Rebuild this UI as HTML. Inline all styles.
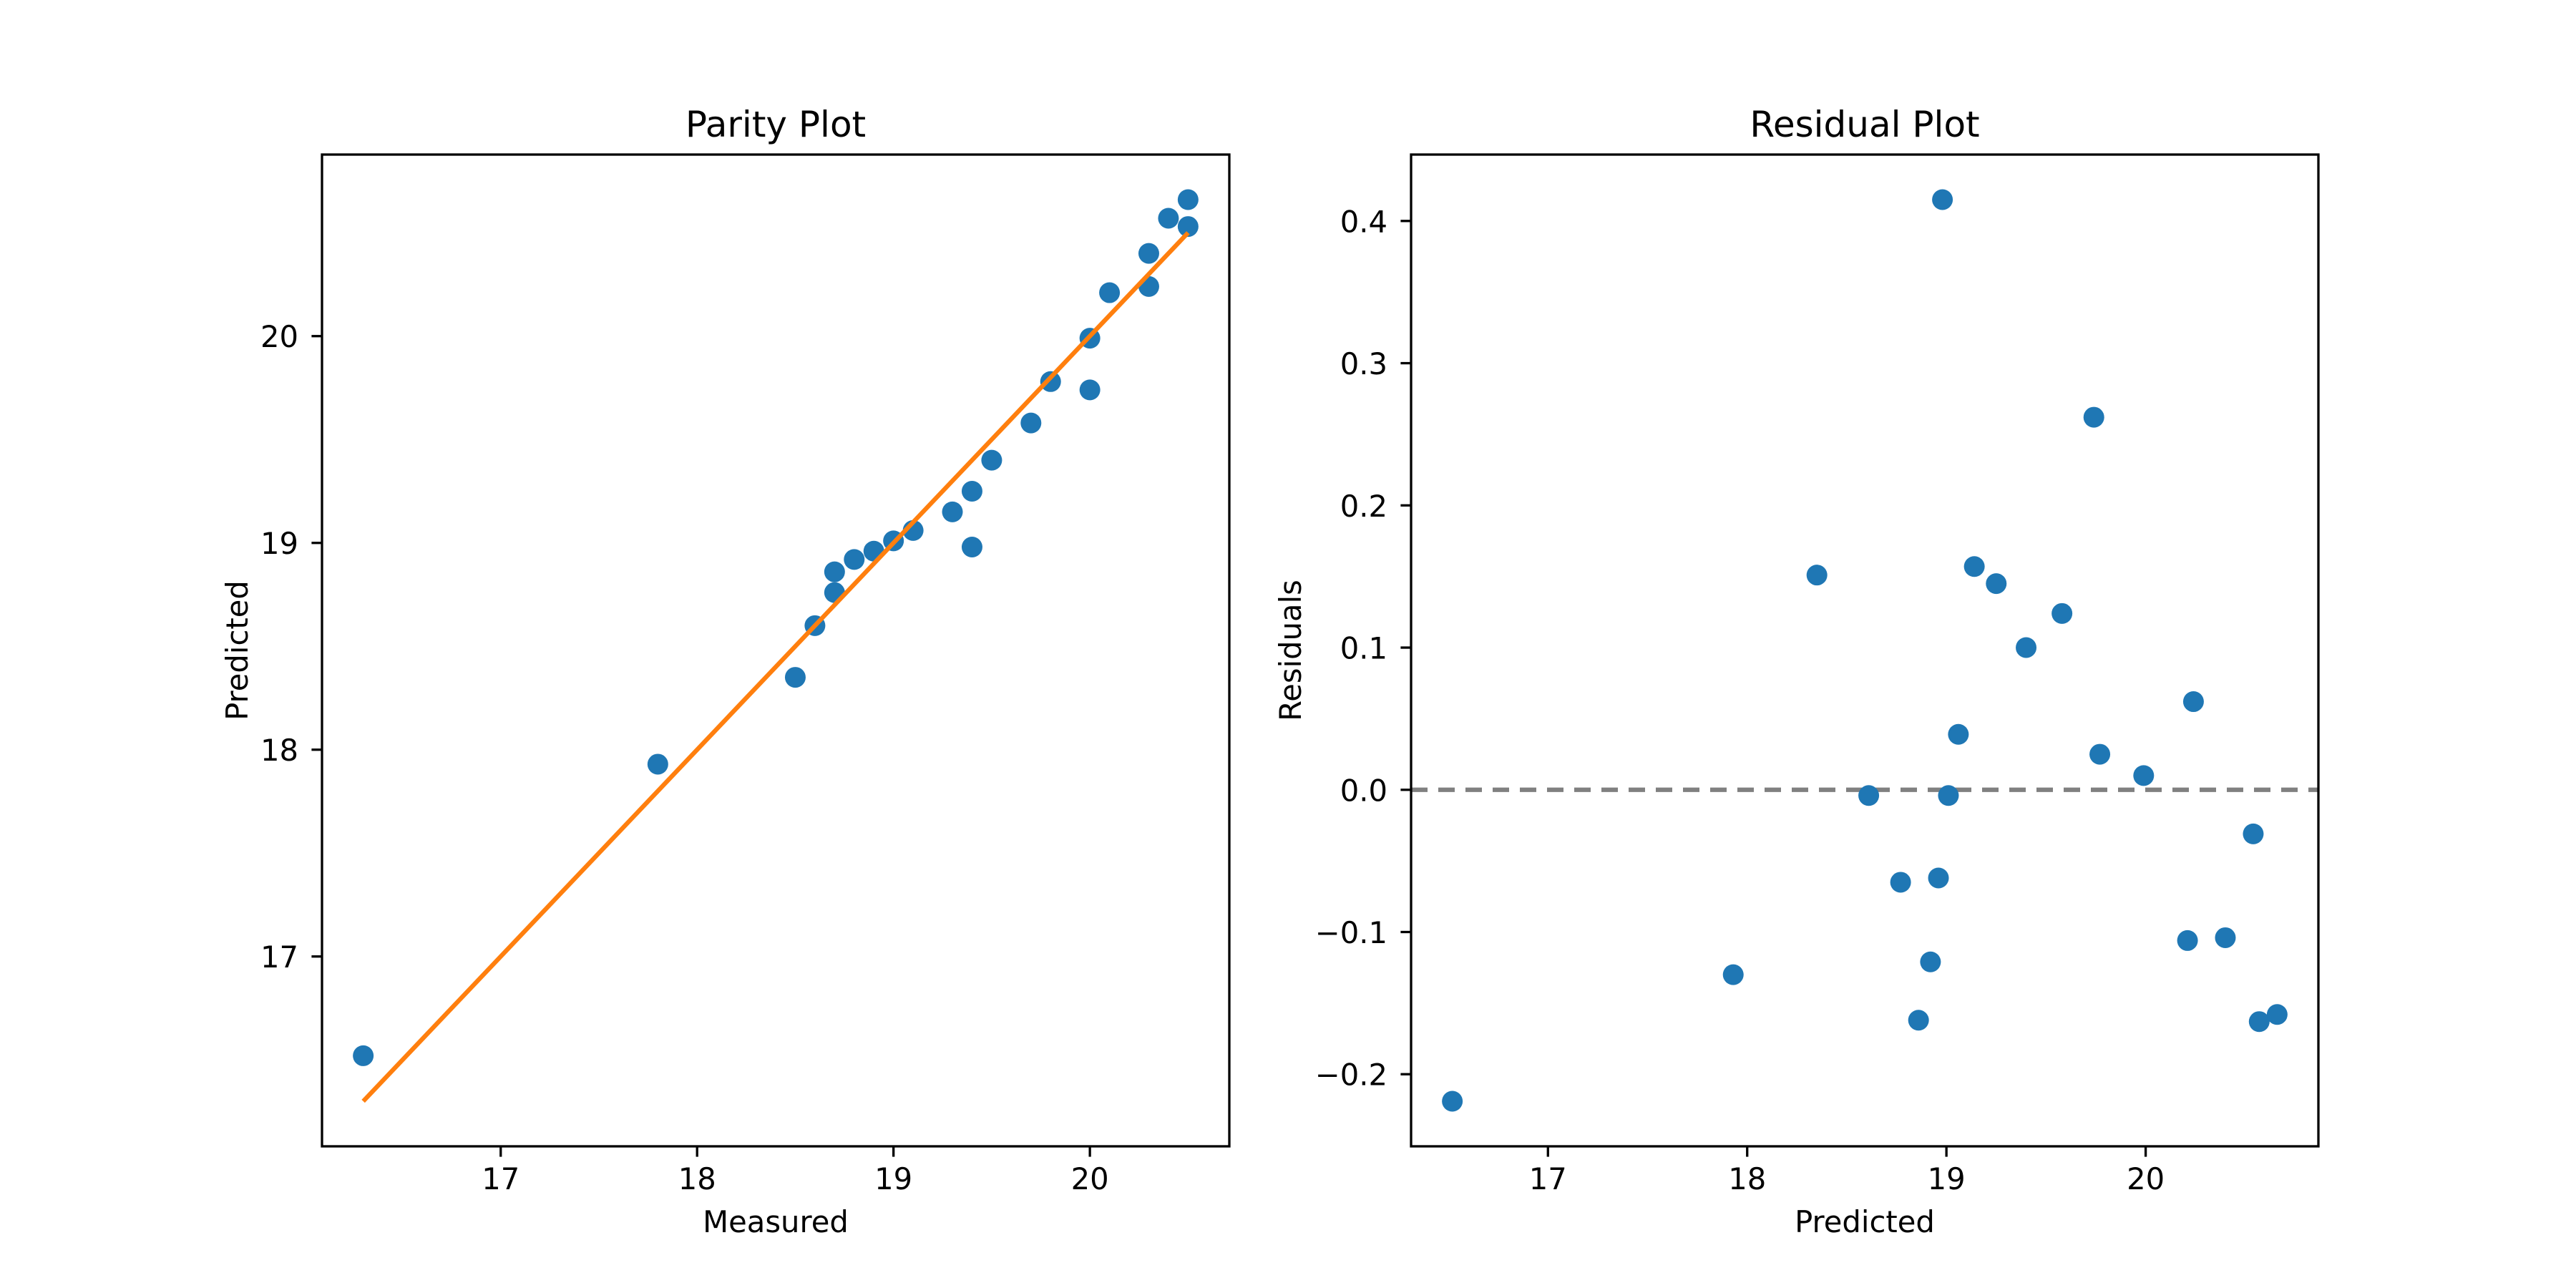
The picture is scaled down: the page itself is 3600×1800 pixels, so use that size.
<!DOCTYPE html>
<html><head><meta charset="utf-8"><style>
html,body{margin:0;padding:0;background:#fff;}
svg{display:block;font-family:"DejaVu Sans","Liberation Sans",sans-serif;}
</style></head><body>
<svg id="fig" width="3600" height="1800" viewBox="0 0 3600 1800" xmlns="http://www.w3.org/2000/svg"></svg>
<script>
const measured = [16.3,17.8,18.5,18.6,18.7,18.7,18.8,18.9,19.0,19.1,19.3,19.4,19.4,19.5,19.7,19.8,20.0,20.0,20.1,20.3,20.3,20.4,20.5,20.5];
const predicted = [16.52,17.93,18.35,18.60,18.76,18.86,18.92,18.96,19.01,19.06,19.15,19.25,18.98,19.40,19.58,19.78,19.99,19.74,20.21,20.40,20.24,20.57,20.66,20.53];
const fitX = [16.3,20.5];
const fitY = [16.3,20.5];
const residPred = [16.52,17.93,18.35,18.61,18.77,18.86,18.92,18.96,18.98,19.01,19.06,19.14,19.25,19.40,19.58,19.74,19.77,19.99,20.21,20.24,20.40,20.54,20.57,20.66];
const residVals = [-0.219,-0.130,0.151,-0.004,-0.065,-0.162,-0.121,-0.062,0.415,-0.004,0.039,0.157,0.145,0.100,0.124,0.262,0.025,0.010,-0.106,0.062,-0.104,-0.031,-0.163,-0.158];
const leftXTicks = [17,18,19,20];
const leftYTicks = [17,18,19,20];
const rightXTicks = [17,18,19,20];
const rightYTicks = [-0.2,-0.1,0.0,0.1,0.2,0.3,0.4];
const rightYTickLabels = ["\u22120.2","\u22120.1","0.0","0.1","0.2","0.3","0.4"];

const NS="http://www.w3.org/2000/svg";
const svg=document.getElementById('fig');
function mk(tag,attrs,parent){const e=document.createElementNS(NS,tag);for(const k in attrs)e.setAttribute(k,attrs[k]);(parent||svg).appendChild(e);return e;}
function range(arr){const mn=Math.min(...arr),mx=Math.max(...arr),p=(mx-mn)*0.05;return [mn-p,mx+p];}
function scale(d,r){return v=>r[0]+(v-d[0])/(d[1]-d[0])*(r[1]-r[0]);}

function axes(cfg){
  const g=mk('g',{});
  
  
  const L=cfg.left,R=cfg.right,T=216,B=1602;
  const sx=scale(cfg.xd,[L,R]), sy=scale(cfg.yd,[B,T]);
  cfg.draw(g,sx,sy);
  const fr=mk('rect',{x:L,y:T,width:R-L,height:B-T,fill:'none',stroke:'#000','stroke-width':3.3},g);
  
  
  cfg.xt.forEach((t,i)=>{
    const x=sx(t);
    const tk=mk('line',{x1:x,x2:x,y1:B,y2:B+14.6,stroke:'#000','stroke-width':3.3},g);
    
    
    const tl=mk('text',{x:x,y:1662,'font-size':41.7,'text-anchor':'middle'},g);
    tl.textContent=String(t);
    
    
  });
  cfg.yt.forEach((t,i)=>{
    const y=sy(t);
    const tk=mk('line',{x1:L-14.6,x2:L,y1:y,y2:y,stroke:'#000','stroke-width':3.3},g);
    
    
    const tl=mk('text',{x:L-33,y:y+15.5,'font-size':41.7,'text-anchor':'end'},g);
    tl.textContent=cfg.ytl?cfg.ytl[i]:String(t);
    
    
  });
  const ti=mk('text',{x:(L+R)/2,y:191,'font-size':50,'text-anchor':'middle'},g);
  ti.textContent=cfg.title;
  
  
  const xl=mk('text',{x:(L+R)/2,y:1722,'font-size':41.7,'text-anchor':'middle'},g);
  xl.textContent=cfg.xlabel;
  
  
  const yx=cfg.ylx, yy=(T+B)/2;
  const yl=mk('text',{x:yx,y:yy,'font-size':41.7,'text-anchor':'middle',transform:`rotate(-90 ${yx} ${yy})`},g);
  yl.textContent=cfg.ylabel;
  
  
}

axes({name:'parity-plot',left:450,right:1718,xd:range(measured),yd:range(predicted.concat(fitY)),
  xt:leftXTicks,yt:leftYTicks,title:'Parity Plot',xlabel:'Measured',ylabel:'Predicted',ylx:346,
  draw:(g,sx,sy)=>{
    measured.forEach((m,i)=>{
      const c=mk('circle',{cx:sx(m),cy:sy(predicted[i]),r:14.5,fill:'#1f77b4'},g);
      
      
    });
    const ln=mk('polyline',{points:fitX.map((x,i)=>sx(x)+','+sy(fitY[i])).join(' '),fill:'none',stroke:'#ff7f0e','stroke-width':6.25},g);
    
    
  }});

axes({name:'residual-plot',left:1972,right:3240,xd:range(residPred),yd:range(residVals),
  xt:rightXTicks,yt:rightYTicks,ytl:rightYTickLabels,title:'Residual Plot',xlabel:'Predicted',ylabel:'Residuals',ylx:1818,
  draw:(g,sx,sy)=>{
    const z=mk('line',{x1:1972,x2:3240,y1:sy(0),y2:sy(0),stroke:'#808080','stroke-width':6.25,'stroke-dasharray':'23 15'},g);
    
    
    residPred.forEach((p,i)=>{
      const c=mk('circle',{cx:sx(p),cy:sy(residVals[i]),r:14.5,fill:'#1f77b4'},g);
      
      
    });
  }});
</script>
</body></html>
